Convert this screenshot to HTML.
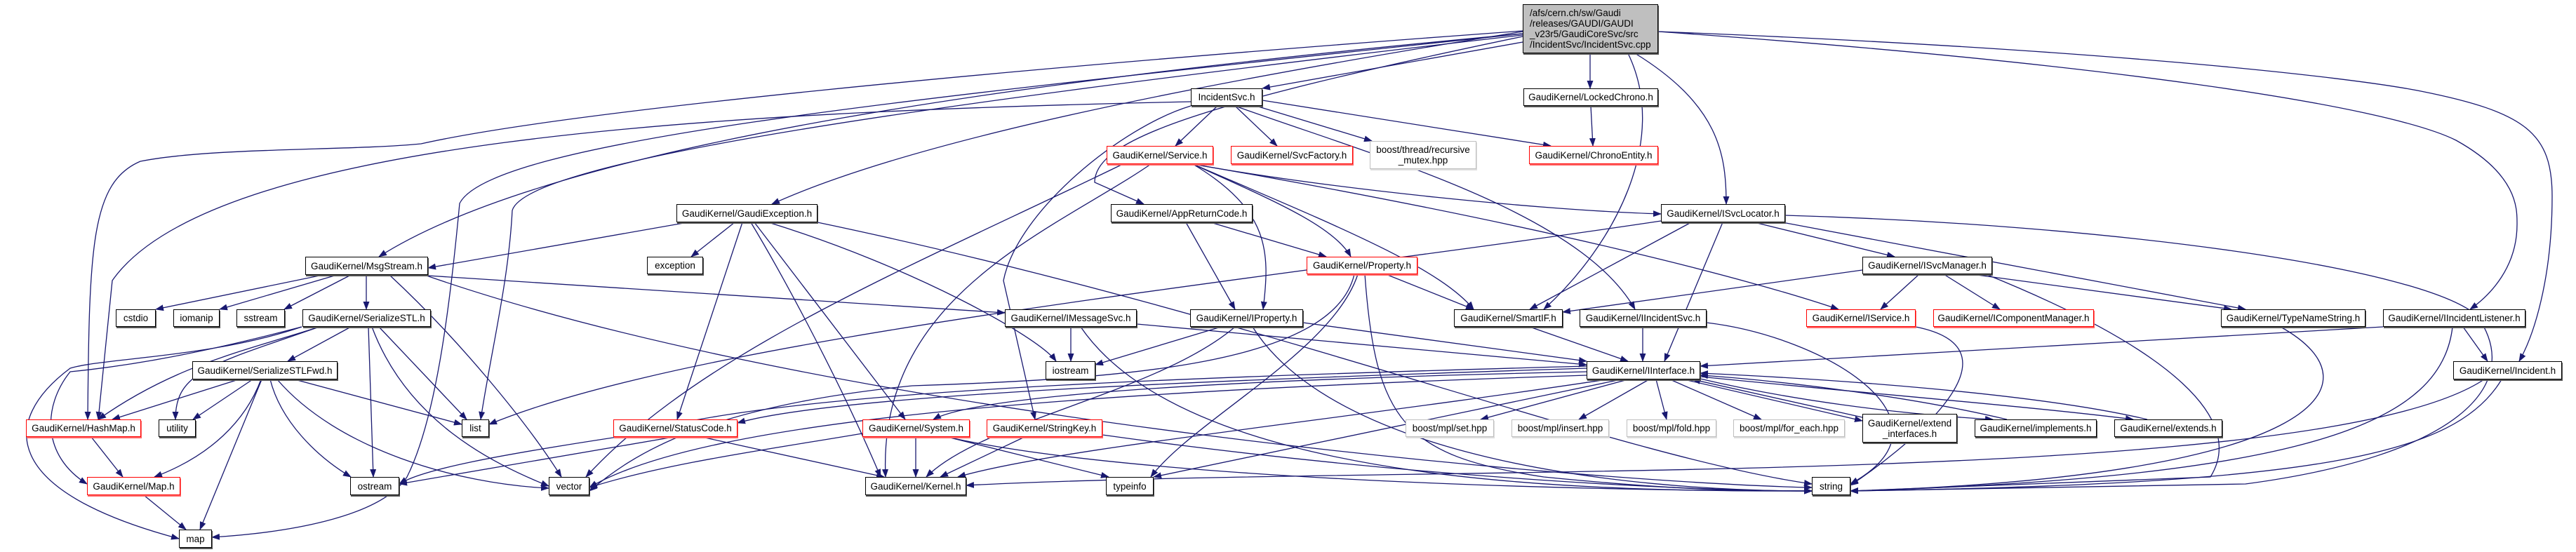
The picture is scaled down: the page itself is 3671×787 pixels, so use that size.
<!DOCTYPE html>
<html><head><meta charset="utf-8"><style>
html,body{margin:0;padding:0;background:#fff;width:3671px;height:787px;overflow:hidden;position:relative}
svg{position:absolute;left:0;top:0}
.n{position:absolute;box-sizing:border-box;border:1px solid #000;background:#fff;display:flex;align-items:center;justify-content:center;font-family:"Liberation Sans",sans-serif;font-size:13.5px;color:#000;white-space:nowrap;box-shadow:1px 2px 0 #555;text-align:center;line-height:15px}
.r{border-color:#f00;box-shadow:1px 2px 0 #f66}
.g{border-color:#bfbfbf;box-shadow:1px 2px 0 #ddd}
</style></head><body>
<svg width="3671" height="787" viewBox="0 0 3671 787">
<defs><marker id="a" markerWidth="12" markerHeight="10" refX="11" refY="4.5" orient="auto" markerUnits="userSpaceOnUse"><path d="M0,0 L12,4.5 L0,9 z" fill="#191970"/></marker></defs>
<g fill="none" stroke="#191970" stroke-width="1.3" marker-end="url(#a)">
<path d="M2170 60 L1799 126"/>
<path d="M2266 76 L2266 126"/>
<path d="M2170 45 C1700 120 1300 200 1100 291"/>
<path d="M2170 48 C1500 110 800 200 540 366"/>
<path d="M2170 44 C1400 100 800 160 600 205 C500 215 300 210 200 230 C130 260 127 350 125 598"/>
<path d="M2170 50 C1300 150 750 230 730 300 C725 400 700 500 685 598"/>
<path d="M2170 48 C1300 140 700 200 655 290 C640 450 620 600 580 680 C540 740 400 760 302 766"/>
<path d="M2170 52 C1700 150 1560 200 1560 260 L1630 291"/>
<path d="M2330 76 C2450 150 2460 220 2460 291"/>
<path d="M2320 76 C2380 200 2300 350 2200 441"/>
<path d="M2363 45 C3000 90 3400 150 3500 200 C3590 250 3587 300 3587 320 C3587 380 3550 420 3520 441"/>
<path d="M2363 45 C3000 70 3350 110 3450 130 C3600 160 3637 190 3637 280 C3637 400 3610 480 3590 515"/>
<path d="M1735 151 L1675 208"/>
<path d="M1760 151 L1820 208"/>
<path d="M1790 151 L1955 201"/>
<path d="M1799 143 L2210 208"/>
<path d="M2267 151 L2270 208"/>
<path d="M1697 145 C1000 160 300 200 160 400 L140 598"/>
<path d="M1697 151 C1600 180 1450 300 1430 400 L1475 598"/>
<path d="M1760 151 C1950 220 2250 300 2330 441"/>
<path d="M1600 234 C1300 380 1000 500 835 680"/>
<path d="M1700 234 C1800 280 1900 320 1925 366"/>
<path d="M1700 234 C1810 300 1810 360 1800 441"/>
<path d="M1700 234 C1900 320 2050 380 2100 441"/>
<path d="M1700 234 C1900 270 2200 300 2367 305"/>
<path d="M1700 234 C2200 320 2500 400 2620 441"/>
<path d="M1640 234 C1500 330 1250 420 1262 680"/>
<path d="M980 317 L610 382"/>
<path d="M1047 317 L985 366"/>
<path d="M1058 317 L965 598"/>
<path d="M1075 317 L1290 598"/>
<path d="M1070 317 C1120 400 1200 550 1255 680"/>
<path d="M1095 317 C1300 380 1480 480 1505 515"/>
<path d="M1165 317 C1800 450 2300 650 2582 690"/>
<path d="M460 392 L222 441"/>
<path d="M480 392 L313 441"/>
<path d="M500 392 L405 441"/>
<path d="M522 392 L522 441"/>
<path d="M555 392 C650 480 750 600 800 680"/>
<path d="M610 393 L1432 446"/>
<path d="M605 392 C1200 600 2300 690 2582 695"/>
<path d="M500 466 L410 515"/>
<path d="M455 466 C350 500 250 520 140 598"/>
<path d="M430 466 C300 500 200 520 100 530 C60 580 60 650 124 690"/>
<path d="M430 466 C300 510 150 510 100 525 C0 600 0 700 255 768"/>
<path d="M455 466 C300 520 250 530 250 598"/>
<path d="M540 466 L665 598"/>
<path d="M525 466 L532 680"/>
<path d="M530 466 C580 600 700 660 782 693"/>
<path d="M340 541 L160 598"/>
<path d="M360 541 L275 598"/>
<path d="M372 541 C350 600 300 650 220 680"/>
<path d="M373 541 L285 755"/>
<path d="M385 541 C400 600 450 650 500 680"/>
<path d="M395 541 C480 640 650 690 782 696"/>
<path d="M420 541 L658 605"/>
<path d="M130 623 L175 680"/>
<path d="M205 706 L265 755"/>
<path d="M1725 317 L1890 366"/>
<path d="M1690 317 L1760 441"/>
<path d="M1975 391 L2100 441"/>
<path d="M1935 391 C1900 500 1700 600 1640 680"/>
<path d="M1945 391 C1960 600 2000 650 2200 680 C2400 700 2500 700 2582 700"/>
<path d="M1930 391 C1900 520 1600 540 1300 550 C1000 580 900 650 840 700"/>
<path d="M2410 317 L2180 441"/>
<path d="M2455 317 L2372 515"/>
<path d="M2500 317 L2700 366"/>
<path d="M2540 317 L3200 441"/>
<path d="M2544 307 C3000 320 3450 380 3530 450 C3600 550 3500 650 3200 690 L2637 700"/>
<path d="M2367 315 C1800 400 1000 480 697 605"/>
<path d="M2654 385 L2227 445"/>
<path d="M2735 391 L2680 441"/>
<path d="M2770 391 L2850 441"/>
<path d="M2810 391 L3180 441"/>
<path d="M2830 391 C3100 500 3200 600 3150 680 L2637 700"/>
<path d="M1526 466 L1526 515"/>
<path d="M1620 462 L2261 520"/>
<path d="M1540 466 C1700 700 2300 700 2582 700"/>
<path d="M1740 466 L1561 520"/>
<path d="M1857 460 L2261 515"/>
<path d="M1785 466 C1900 650 2300 700 2582 700"/>
<path d="M1760 466 C1650 560 1400 600 1320 680"/>
<path d="M2180 466 L2320 515"/>
<path d="M2341 466 L2341 515"/>
<path d="M2432 460 C2600 480 2800 600 2637 690"/>
<path d="M2730 466 C2900 500 2700 650 2637 692"/>
<path d="M3250 466 C3400 550 3300 680 2637 700"/>
<path d="M3396 466 L2423 522"/>
<path d="M3510 466 L3545 515"/>
<path d="M3495 466 C3480 600 3300 680 2637 700"/>
<path d="M3540 541 C3300 700 2000 660 1377 692"/>
<path d="M3565 541 C3500 650 3300 690 2637 700"/>
<path d="M2261 530 C1800 540 1400 560 1330 598"/>
<path d="M2261 525 C1800 540 1200 560 1051 603"/>
<path d="M2261 522 C1600 540 1100 560 900 620 C700 650 600 670 569 690"/>
<path d="M2290 541 C1900 600 1500 640 1365 680"/>
<path d="M2310 541 L1644 680"/>
<path d="M2261 535 C1500 560 1000 600 840 695"/>
<path d="M2320 541 L2110 598"/>
<path d="M2350 541 L2250 598"/>
<path d="M2360 541 L2375 598"/>
<path d="M2380 541 L2510 598"/>
<path d="M2400 541 L2654 600"/>
<path d="M2654 595 L2412 541"/>
<path d="M2423 540 C2550 570 2700 590 2840 598"/>
<path d="M2860 598 C2700 560 2500 540 2423 535"/>
<path d="M2423 537 C2650 560 2900 580 3040 598"/>
<path d="M3060 598 C2900 560 2600 540 2423 532"/>
<path d="M1305 623 L1305 680"/>
<path d="M1350 623 L1580 680"/>
<path d="M1229 618 C1100 640 950 660 840 695"/>
<path d="M1350 623 C1600 680 2200 700 2582 700"/>
<path d="M1460 623 L1340 680"/>
<path d="M1571 620 C2000 680 2400 700 2582 700"/>
<path d="M960 623 L569 690"/>
<path d="M1000 623 L1260 680"/>
</g></svg>

<div class="n" style="left:2170px;top:6px;width:193px;height:70px;background:#bfbfbf;justify-content:flex-start;text-align:left;padding-left:9px">/afs/cern.ch/sw/Gaudi<br>/releases/GAUDI/GAUDI<br>_v23r5/GaudiCoreSvc/src<br>/IncidentSvc/IncidentSvc.cpp</div>
<div class="n" style="left:1697px;top:126px;width:102px;height:25px">IncidentSvc.h</div>
<div class="n" style="left:2171px;top:126px;width:192px;height:25px">GaudiKernel/LockedChrono.h</div>
<div class="n r" style="left:1577px;top:208px;width:152px;height:26px">GaudiKernel/Service.h</div>
<div class="n r" style="left:1754px;top:208px;width:174px;height:26px">GaudiKernel/SvcFactory.h</div>
<div class="n g" style="left:1952px;top:201px;width:152px;height:40px">boost/thread/recursive<br>_mutex.hpp</div>
<div class="n r" style="left:2179px;top:208px;width:184px;height:26px">GaudiKernel/ChronoEntity.h</div>
<div class="n" style="left:964px;top:291px;width:201px;height:26px">GaudiKernel/GaudiException.h</div>
<div class="n" style="left:1583px;top:291px;width:202px;height:26px">GaudiKernel/AppReturnCode.h</div>
<div class="n" style="left:2367px;top:291px;width:177px;height:26px">GaudiKernel/ISvcLocator.h</div>
<div class="n" style="left:435px;top:366px;width:175px;height:26px">GaudiKernel/MsgStream.h</div>
<div class="n" style="left:922px;top:366px;width:80px;height:25px">exception</div>
<div class="n r" style="left:1862px;top:366px;width:158px;height:25px">GaudiKernel/Property.h</div>
<div class="n" style="left:2654px;top:366px;width:185px;height:25px">GaudiKernel/ISvcManager.h</div>
<div class="n" style="left:165px;top:441px;width:57px;height:25px">cstdio</div>
<div class="n" style="left:247px;top:441px;width:66px;height:25px">iomanip</div>
<div class="n" style="left:337px;top:441px;width:69px;height:25px">sstream</div>
<div class="n" style="left:431px;top:441px;width:183px;height:25px">GaudiKernel/SerializeSTL.h</div>
<div class="n" style="left:1432px;top:441px;width:188px;height:25px">GaudiKernel/IMessageSvc.h</div>
<div class="n" style="left:1696px;top:441px;width:161px;height:25px">GaudiKernel/IProperty.h</div>
<div class="n" style="left:2072px;top:441px;width:155px;height:25px">GaudiKernel/SmartIF.h</div>
<div class="n" style="left:2251px;top:441px;width:181px;height:25px">GaudiKernel/IIncidentSvc.h</div>
<div class="n r" style="left:2574px;top:441px;width:156px;height:25px">GaudiKernel/IService.h</div>
<div class="n r" style="left:2755px;top:441px;width:229px;height:25px">GaudiKernel/IComponentManager.h</div>
<div class="n" style="left:3165px;top:441px;width:206px;height:25px">GaudiKernel/TypeNameString.h</div>
<div class="n" style="left:3396px;top:441px;width:203px;height:25px">GaudiKernel/IIncidentListener.h</div>
<div class="n" style="left:274px;top:515px;width:207px;height:26px">GaudiKernel/SerializeSTLFwd.h</div>
<div class="n" style="left:1490px;top:515px;width:71px;height:26px">iostream</div>
<div class="n" style="left:2261px;top:515px;width:162px;height:26px">GaudiKernel/IInterface.h</div>
<div class="n" style="left:3496px;top:515px;width:155px;height:26px">GaudiKernel/Incident.h</div>
<div class="n r" style="left:37px;top:598px;width:164px;height:25px">GaudiKernel/HashMap.h</div>
<div class="n" style="left:226px;top:598px;width:53px;height:25px">utility</div>
<div class="n" style="left:658px;top:598px;width:39px;height:25px">list</div>
<div class="n r" style="left:874px;top:598px;width:177px;height:25px">GaudiKernel/StatusCode.h</div>
<div class="n r" style="left:1229px;top:598px;width:153px;height:25px">GaudiKernel/System.h</div>
<div class="n r" style="left:1406px;top:598px;width:165px;height:25px">GaudiKernel/StringKey.h</div>
<div class="n g" style="left:2003px;top:598px;width:126px;height:25px">boost/mpl/set.hpp</div>
<div class="n g" style="left:2154px;top:598px;width:139px;height:25px">boost/mpl/insert.hpp</div>
<div class="n g" style="left:2318px;top:598px;width:128px;height:25px">boost/mpl/fold.hpp</div>
<div class="n g" style="left:2470px;top:598px;width:159px;height:25px">boost/mpl/for_each.hpp</div>
<div class="n" style="left:2654px;top:590px;width:135px;height:41px">GaudiKernel/extend<br>_interfaces.h</div>
<div class="n" style="left:2814px;top:598px;width:174px;height:25px">GaudiKernel/implements.h</div>
<div class="n" style="left:3013px;top:598px;width:154px;height:25px">GaudiKernel/extends.h</div>
<div class="n r" style="left:124px;top:680px;width:133px;height:26px">GaudiKernel/Map.h</div>
<div class="n" style="left:499px;top:680px;width:70px;height:26px">ostream</div>
<div class="n" style="left:782px;top:680px;width:58px;height:26px">vector</div>
<div class="n" style="left:1233px;top:680px;width:144px;height:26px">GaudiKernel/Kernel.h</div>
<div class="n" style="left:1576px;top:680px;width:68px;height:26px">typeinfo</div>
<div class="n" style="left:2582px;top:680px;width:55px;height:26px">string</div>
<div class="n" style="left:255px;top:755px;width:47px;height:26px">map</div>
</body></html>
